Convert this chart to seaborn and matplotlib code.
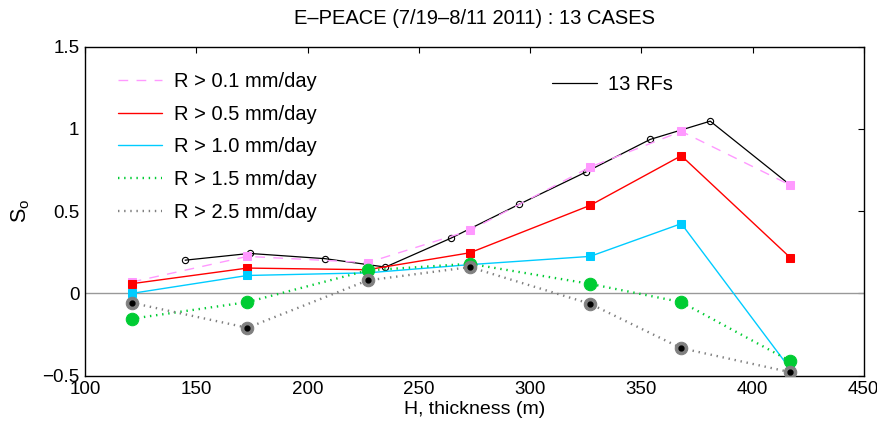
import pandas as pd
import matplotlib
matplotlib.use("Agg")
import matplotlib.pyplot as plt
from matplotlib.lines import Line2D
import seaborn as sns

# thickness bins (m)
H = [121, 173, 227, 273, 327, 368, 417]
r01 = [0.069, 0.225, 0.187, 0.383, 0.768, 0.985, 0.658]
r05 = [0.059, 0.154, 0.144, 0.247, 0.535, 0.837, 0.217]
r10 = [0.000, 0.109, 0.125, 0.175, 0.225, 0.424, -0.460]
r15 = [-0.154, -0.053, 0.140, 0.180, 0.058, -0.053, -0.412]
r25 = [-0.057, -0.209, 0.079, 0.160, -0.063, -0.333, -0.479]

# 13 research flights
H_rf = [145, 174, 208, 235, 264.5, 295, 325, 354, 381, 417]
s_rf = [0.202, 0.243, 0.211, 0.160, 0.336, 0.541, 0.737, 0.936, 1.047, 0.658]

labels = ["R > 0.1 mm/day", "R > 0.5 mm/day", "R > 1.0 mm/day",
          "R > 1.5 mm/day", "R > 2.5 mm/day"]

sns.set_style("white")
plt.rcParams["font.family"] = ["Liberation Sans", "DejaVu Sans"]
plt.rcParams.update({
    "xtick.direction": "in", "ytick.direction": "in",
    "text.color": "black", "axes.labelcolor": "black",
    "xtick.color": "black", "ytick.color": "black",
})

fig = plt.figure(figsize=(8.78, 4.24), dpi=100)
ax = fig.add_axes([0.0968, 0.114, 0.887, 0.776])

ax.axhline(0, color="#999999", lw=1.0, zorder=1)

rf = pd.DataFrame({"H": H_rf, "S": s_rf})
sns.lineplot(data=rf, x="H", y="S", ax=ax, color="black", lw=0.9,
             marker="o", ms=4.5, mfc="none", mec="black", mew=0.8, zorder=2)

dotted = (0, (0.6, 2.0))
styles = [
    dict(color="#ff99ff", ls=(0, (7, 6)), lw=1.0, marker="s", ms=6),
    dict(color="#ff0000", ls="-", lw=1.0, marker="s", ms=6),
    dict(color="#00ccff", ls="-", lw=1.0, marker="s", ms=6),
    dict(color="#00cc33", ls=dotted, lw=1.7, marker="o", ms=9),
    dict(color="#808080", ls=dotted, lw=1.7, marker="o", ms=9),
]
series = [r01, r05, r10, r15, r25]
for i, (vals, st) in enumerate(zip(series, styles)):
    df = pd.DataFrame({"H": H, "S": vals})
    sns.lineplot(data=df, x="H", y="S", ax=ax, color=st["color"],
                 linestyle=st["ls"], lw=st["lw"], marker=st["marker"],
                 ms=st["ms"], mec=st["color"], mfc=st["color"], zorder=3 + i)

# black centre dot of the R > 2.5 markers
ax.plot(H, r25, ls="none", marker="o", ms=3.5, color="black", zorder=9)

ax.set_xlim(100, 450)
ax.set_ylim(-0.5, 1.5)
ax.set_xticks([100, 150, 200, 250, 300, 350, 400, 450])
ax.set_yticks([-0.5, 0, 0.5, 1, 1.5])
ax.set_yticklabels(["\u22120.5", "0", "0.5", "1", "1.5"])
ax.tick_params(axis="both", labelsize=13.5, length=4, width=0.8,
               top=True, right=True, pad=4)
for s in ax.spines.values():
    s.set_color("black")
    s.set_linewidth(1.0)

ax.set_xlabel("H, thickness (m)", fontsize=14, labelpad=2)
ax.set_ylabel(r"$\mathregular{S_o}$", fontsize=15.5, labelpad=7)
ax.set_title("E\u2013PEACE (7/19\u20138/11 2011) : 13 CASES", fontsize=14.5, pad=16)

handles = [Line2D([], [], color=st["color"], ls=st["ls"], lw=st["lw"])
           for st in styles]
leg_kw = dict(loc="upper left", frameon=False, fontsize=14.5,
              handlelength=2.2, handletextpad=0.58, borderpad=0,
              borderaxespad=0)
leg1 = ax.legend(handles, labels, labelspacing=0.68,
                 bbox_to_anchor=(0.0424, 0.923), **leg_kw)
ax.add_artist(leg1)
ax.legend([Line2D([], [], color="black", lw=0.9)], ["13 RFs"],
          bbox_to_anchor=(0.600, 0.915), **leg_kw)

fig.savefig("out.png", dpi=100)
